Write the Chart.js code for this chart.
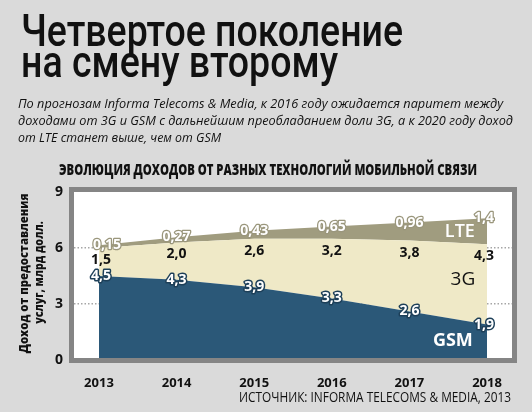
<!DOCTYPE html>
<html><head><meta charset="utf-8">
<script src="https://cdn.jsdelivr.net/npm/chart.js@4/dist/chart.umd.min.js"></script>
<style>
html,body{margin:0;padding:0;}
body{width:532px;height:412px;background:#dadada;position:relative;overflow:hidden;font-family:'Open Sans',sans-serif;color:#111;}
.t{position:absolute;white-space:nowrap;transform-origin:0 0;}
.rot{position:absolute;white-space:nowrap;transform-origin:50% 50%;font-weight:800;font-size:13px;line-height:13px;}
#c{position:absolute;left:0;top:0;}
</style></head><body>
<canvas id="c" width="532" height="412"></canvas>
<div class="t fit" data-w="382" style="left:21px;top:9px;font-family:Roboto,'Open Sans',sans-serif;font-size:44px;line-height:44px;font-weight:500;">Четвертое поколение</div>
<div class="t fit" data-w="317" style="left:21px;top:40px;font-family:Roboto,'Open Sans',sans-serif;font-size:44px;line-height:44px;font-weight:500;">на смену второму</div>
<div class="t fit" data-w="485" style="left:18px;top:94.5px;font-size:13px;line-height:17px;font-style:italic;">По прогнозам Informa Telecoms &amp; Media, к 2016 году ожидается паритет между</div>
<div class="t fit" data-w="495" style="left:18px;top:111.5px;font-size:13px;line-height:17px;font-style:italic;">доходами от 3G и GSM с дальнейшим преобладанием доли 3G, а к 2020 году доход</div>
<div class="t fit" data-w="203" style="left:18px;top:128.5px;font-size:13px;line-height:17px;font-style:italic;">от LTE станет выше, чем от GSM</div>
<div class="t fit" data-w="418" style="left:59px;top:161.7px;font-size:15px;line-height:15px;font-weight:800;">ЭВОЛЮЦИЯ ДОХОДОВ ОТ РАЗНЫХ ТЕХНОЛОГИЙ МОБИЛЬНОЙ СВЯЗИ</div>
<div class="t fit" data-w="272" style="left:239px;top:389.6px;font-size:14px;line-height:14px;">ИСТОЧНИК: INFORMA TELECOMS &amp; MEDIA, 2013</div>
<div class="rot" data-w="160" data-cx="24" data-cy="273">Доход от предоставления</div>
<div class="rot" data-w="103" data-cx="38.5" data-cy="272">услуг, млрд долл.</div>
<script>
// ---- data ----
const years = [2013, 2014, 2015, 2016, 2017, 2018];
const gsm = [4.5, 4.3, 3.9, 3.3, 2.6, 1.9];
const g3  = [1.5, 2.0, 2.6, 3.2, 3.8, 4.3];
const lte = [0.15, 0.27, 0.43, 0.65, 0.96, 1.4];
const yTicks = [0, 3, 6, 9];
const seriesNames = ['GSM', '3G', 'LTE'];

// ---- text fitting ----
document.querySelectorAll('.fit').forEach(el => {
  const w = el.getBoundingClientRect().width;
  el.style.transform = 'scaleX(' + (+el.dataset.w / w) + ')';
});
document.querySelectorAll('.rot').forEach(el => {
  const w = el.offsetWidth, h = el.offsetHeight;
  el.style.left = (+el.dataset.cx - w / 2) + 'px';
  el.style.top = (+el.dataset.cy - h / 2) + 'px';
  el.style.transform = 'rotate(-90deg) scaleX(' + (+el.dataset.w / w) + ')';
});

const fmt1 = v => v.toFixed(1).replace('.', ',');
const fmtL = v => (v < 1 ? v.toFixed(2) : v.toFixed(1)).replace('.', ',');
const pts = arr => years.map((x, i) => ({x, y: arr[i]}));

function drawLabel(ctx, text, x, y, font, fill, stroke, lw) {
  ctx.font = font; ctx.textAlign = 'center'; ctx.textBaseline = 'middle';
  if (stroke) { ctx.lineJoin = 'round'; ctx.strokeStyle = stroke; ctx.lineWidth = lw; ctx.strokeText(text, x, y); }
  ctx.fillStyle = fill; ctx.fillText(text, x, y);
}

const bgPlugin = {
  id: 'bgArea',
  beforeDraw(chart) {
    const {ctx, chartArea: a} = chart;
    ctx.save(); ctx.fillStyle = '#ffffff';
    ctx.fillRect(a.left, a.top, a.right - a.left, a.bottom - a.top);
    ctx.restore();
  }
};
const overlayPlugin = {
  id: 'overlay',
  afterDatasetsDraw(chart) {
    const {ctx, chartArea: a, scales: {x, y}} = chart;
    ctx.save();
    ctx.strokeStyle = '#858585'; ctx.lineWidth = 5;
    ctx.strokeRect(a.left - 2.5, a.top - 2.5, a.right - a.left + 5, a.bottom - a.top + 3);
    const n = years.length;
    years.forEach((yr, i) => {
      const dx = i === 0 ? 2 : (i === n - 1 ? -3 : 0);
      const px = x.getPixelForValue(yr) + dx;
      drawLabel(ctx, fmt1(gsm[i]), px, y.getPixelForValue(gsm[i]), 'bold 14px "Open Sans"', '#ffffff', '#1d3f58', 3);
      drawLabel(ctx, fmt1(g3[i]), px, y.getPixelForValue(gsm[i] + g3[i]) + 12, 'bold 14px "Open Sans"', '#111111');
      drawLabel(ctx, fmtL(lte[i]), px + (i === 0 ? 6 : 0), y.getPixelForValue(gsm[i] + g3[i] + lte[i]), 'bold 14px "Open Sans"', '#ffffff', '#9a967c', 2.5);
    });
    const nx = years[n - 1] - 0.35;
    drawLabel(ctx, seriesNames[2], x.getPixelForValue(nx), y.getPixelForValue(6.85), '600 18px "Open Sans"', '#ffffff');
    drawLabel(ctx, seriesNames[1], x.getPixelForValue(nx + 0.04), y.getPixelForValue(4.3), '19px "Open Sans"', '#111111');
    drawLabel(ctx, seriesNames[0], x.getPixelForValue(nx - 0.09), y.getPixelForValue(1.0), 'bold 18px "Open Sans"', '#ffffff');
    ctx.restore();
  }
};

const xPad = 0.322;
new Chart(document.getElementById('c'), {
  type: 'line',
  data: {
    datasets: [
      {label: seriesNames[0], data: pts(gsm), fill: 'origin', backgroundColor: '#2b5878', borderWidth: 0, pointRadius: 0, tension: 0},
      {label: seriesNames[1], data: pts(g3), fill: '-1', backgroundColor: '#efe9c7', borderWidth: 0, pointRadius: 0, tension: 0},
      {label: seriesNames[2], data: pts(lte), fill: '-1', backgroundColor: '#a09c7f', borderWidth: 0, pointRadius: 0, tension: 0}
    ]
  },
  options: {
    responsive: false, animation: false, devicePixelRatio: 1,
    layout: {padding: {top: 192, left: 0, right: 20, bottom: 0}},
    plugins: {legend: {display: false}, tooltip: {enabled: false}},
    scales: {
      x: {
        type: 'linear', min: years[0] - xPad, max: years[years.length - 1] + xPad,
        ticks: {stepSize: 1, includeBounds: false, autoSkip: false, maxRotation: 0, padding: 7,
          color: '#111', font: {family: 'Open Sans', size: 13, weight: 'bold'},
          callback: v => years.includes(v) ? String(v) : ''},
        grid: {display: false}, border: {display: false},
        afterFit: s => { s.height = 52; }
      },
      y: {
        stacked: true, min: yTicks[0], max: yTicks[yTicks.length - 1],
        afterBuildTicks: s => { s.ticks = yTicks.map(v => ({value: v})); },
        ticks: {padding: 11, color: '#111', font: {family: 'Open Sans', size: 14, weight: 'bold'}},
        grid: {drawTicks: false, lineWidth: 1.5,
          color: c => (c.tick && c.tick.value > yTicks[0] && c.tick.value < yTicks[yTicks.length - 1]) ? '#a6a6a6' : 'rgba(0,0,0,0)'},
        border: {display: false, dash: [1.5, 2]},
        afterFit: s => { s.width = 74; }
      }
    }
  },
  plugins: [bgPlugin, overlayPlugin]
});
</script>
</body></html>
